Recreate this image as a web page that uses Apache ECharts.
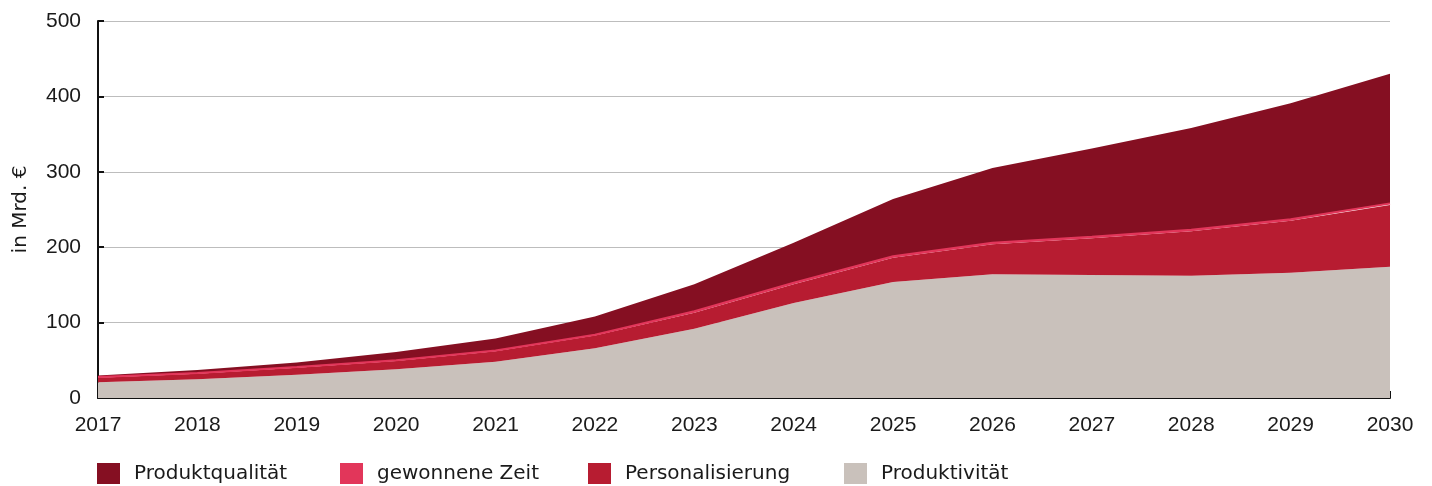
<!DOCTYPE html>
<html>
<head>
<meta charset="utf-8">
<script src="https://cdn.jsdelivr.net/npm/echarts@6/dist/echarts.min.js"></script>
<style>
  html, body { margin: 0; padding: 0; background: #fff; }
  #chart { width: 1432px; height: 486px; }
</style>
</head>
<body>
<div id="chart"></div>
<script>
const years = ["2017", "2018", "2019", "2020", "2021", "2022", "2023", "2024", "2025", "2026", "2027", "2028", "2029", "2030"]
const produktivitaet = [21, 25, 31, 38, 48, 66, 92, 126, 154, 164, 163, 162, 166, 174]
const personalisierung = [6, 7, 9, 11, 14, 17, 21, 25, 32, 40, 49, 59, 69, 82]
const gewonneneZeit = [1, 1, 1, 1, 1, 1, 2, 2, 2, 2, 2, 2, 2, 2]
const produktqualitaet = [2, 4, 6, 11, 16, 24, 36, 53, 76, 99, 117, 135, 154, 172]
const yTicks = [0, 100, 200, 300, 400, 500]

const font = "'Liberation Sans', Arial, sans-serif"
const wideFont = "'DejaVu Sans', sans-serif"
const colors = {
  "Produktqualität": "#850f22",
  "gewonnene Zeit": "#e2365a",
  "Personalisierung": "#b71c31",
  "Produktivität": "#c9c1bb"
}
const legendNames = ["Produktqualität", "gewonnene Zeit", "Personalisierung", "Produktivität"]
const legendLeft = [97, 340, 588, 844]

const areaSeries = (name, data, lineWidth) => ({
  name,
  type: "line",
  stack: "total",
  data,
  symbol: "none",
  lineStyle: {width: lineWidth, color: colors[name]},
  itemStyle: {color: colors[name]},
  areaStyle: {color: colors[name], opacity: 1}
})

const chart = echarts.init(document.getElementById("chart"))
chart.setOption({
  animation: false,
  textStyle: {fontFamily: font},
  grid: {left: 98, right: 42, top: 21, bottom: 88, containLabel: false},
  legend: legendNames.map((n, i) => ({
    data: [{name: n, icon: "rect"}],
    left: legendLeft[i],
    top: 463,
    padding: 0,
    itemWidth: 23,
    itemHeight: 21,
    itemGap: 0,
    textStyle: {fontSize: 20, color: "#1a1a1a", fontFamily: wideFont, padding: [0, 0, 0, 9]}
  })),
  xAxis: {
    type: "category",
    data: years,
    boundaryGap: false,
    axisLine: {lineStyle: {color: "#111", width: 2}},
    axisTick: {inside: true, length: 7, lineStyle: {color: "#111", width: 2}},
    axisLabel: {fontSize: 21, color: "#1a1a1a", margin: 17, fontFamily: font},
    splitLine: {show: false}
  },
  yAxis: {
    type: "value",
    min: yTicks[0],
    max: yTicks[yTicks.length - 1],
    interval: 100,
    name: "in Mrd. €",
    nameLocation: "middle",
    nameGap: 67,
    nameTextStyle: {fontSize: 20, color: "#1a1a1a", fontFamily: wideFont},
    axisLine: {show: true, lineStyle: {color: "#111", width: 2}},
    axisTick: {show: true, inside: true, length: 6, lineStyle: {color: "#111", width: 2}},
    axisLabel: {fontSize: 21, color: "#1a1a1a", margin: 17, fontFamily: font, padding: [4, 0, 0, 0]},
    splitLine: {lineStyle: {color: "#bdbdbd", width: 1}}
  },
  series: [
    areaSeries("Produktivität", produktivitaet, 0),
    areaSeries("Personalisierung", personalisierung, 0),
    areaSeries("gewonnene Zeit", gewonneneZeit, 2),
    areaSeries("Produktqualität", produktqualitaet, 0)
  ]
})
</script>
</body>
</html>
